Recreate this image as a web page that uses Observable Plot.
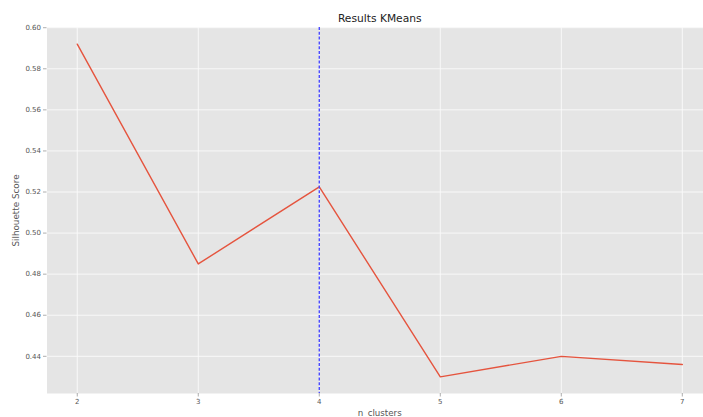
<!DOCTYPE html>
<html>
<head>
<meta charset="utf-8">
<script src="https://cdn.jsdelivr.net/npm/d3@7"></script>
<script src="https://cdn.jsdelivr.net/npm/@observablehq/plot@0.6"></script>
<style>
  html, body { margin: 0; padding: 0; background: #fff; }
  #chart svg { display: block; font-family: "DejaVu Sans", sans-serif; }
</style>
</head>
<body>
<div id="chart"></div>
<script>
// Silhouette score for each number of KMeans clusters
const nClusters = [2, 3, 4, 5, 6, 7];
const scores = [0.592, 0.485, 0.5225, 0.430, 0.440, 0.436];
const bestK = [4];

const xTicks = [2, 3, 4, 5, 6, 7];
const yTicks = [0.44, 0.46, 0.48, 0.50, 0.52, 0.54, 0.56, 0.58, 0.60];

const titleText = ["Results KMeans"];
const xLabel = ["n_clusters"];
const yLabel = ["Silhouette Score"];

const rows = nClusters.map((k, i) => ({k, score: scores[i]}));

const chart = Plot.plot({
  width: 703,
  height: 417,
  marginLeft: 46.5,
  marginRight: 0,
  marginTop: 27,
  marginBottom: 24,
  style: {background: "#fff", fontFamily: "DejaVu Sans, sans-serif"},
  x: {domain: [1.75, 7.175]},
  y: {domain: [0.4219, 0.6001]},
  marks: [
    Plot.frame({fill: "#E5E5E5"}),
    Plot.gridX(xTicks, {stroke: "#fafafa", strokeOpacity: 1, strokeWidth: 0.9}),
    Plot.gridY(yTicks, {stroke: "#fafafa", strokeOpacity: 1, strokeWidth: 0.9}),
    Plot.axisX(xTicks, {
      tickSize: 3.5, tickPadding: 2.5, fontSize: 7, color: "#555",
      stroke: "#999", strokeWidth: 0.8, label: null,
      tickFormat: d => String(d)
    }),
    Plot.axisY(yTicks, {
      tickSize: 3.5, tickPadding: 2.5, fontSize: 7, color: "#555",
      stroke: "#999", strokeWidth: 0.8, label: null,
      tickFormat: d3.format(".2f")
    }),
    Plot.line(rows, {x: "k", y: "score", stroke: "#E5543E", strokeWidth: 1.4}),
    Plot.ruleX(bestK, {stroke: "#4a4aff", strokeWidth: 1.4, strokeDasharray: "3,1.8"}),
    Plot.text(titleText, {
      text: d => d, frameAnchor: "top", dx: 4.5, dy: -8.5,
      fontSize: 10.7, fill: "#222", textAnchor: "middle", lineAnchor: "middle"
    }),
    Plot.text(xLabel, {
      text: d => d, frameAnchor: "bottom", dx: 4.5, dy: 19.7,
      fontSize: 8.7, fill: "#555", textAnchor: "middle", lineAnchor: "middle"
    }),
    Plot.text(yLabel, {
      text: d => d, frameAnchor: "left", dx: -30.5, rotate: -90,
      fontSize: 8.8, fill: "#555", textAnchor: "middle", lineAnchor: "middle"
    })
  ]
});

document.getElementById("chart").appendChild(chart);
</script>
</body>
</html>
